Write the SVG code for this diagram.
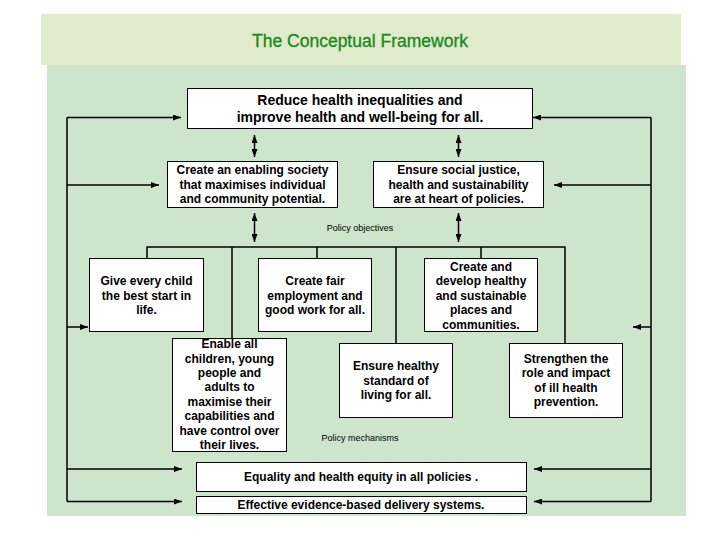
<svg xmlns="http://www.w3.org/2000/svg" width="720" height="540" viewBox="0 0 720 540">
<defs>
<marker id="ah" viewBox="0 0 8 6" refX="8" refY="3" markerWidth="8" markerHeight="6" markerUnits="userSpaceOnUse" orient="auto-start-reverse">
<path d="M0,0 L8,3 L0,6 z" fill="#000"/>
</marker>
<style>
.box{fill:#fff;stroke:#000;stroke-width:1}
.t{font-family:"Liberation Sans",Arial,sans-serif;font-weight:bold;font-size:12px;fill:#000;text-anchor:middle;dominant-baseline:central}
.big{font-size:14px}
.sm{font-family:"Liberation Sans",Arial,sans-serif;font-size:9px;fill:#000;text-anchor:middle;dominant-baseline:central}
.c{fill:none;stroke:#000;stroke-width:1.5}
.a{fill:none;stroke:#000;stroke-width:1.5;marker-end:url(#ah)}
.d{fill:none;stroke:#000;stroke-width:1.5;marker-end:url(#ah);marker-start:url(#ah)}
</style>
</defs>
<rect x="0" y="0" width="720" height="540" fill="#fff"/>
<rect x="41" y="14" width="640" height="51" fill="#e0ebcc"/>
<rect x="47" y="65" width="639" height="451" fill="#cce5cb"/>
<text x="360" y="41" font-family="'Liberation Sans',Arial,sans-serif" font-size="17.5" fill="#188818" stroke="#188818" stroke-width="0.3" text-anchor="middle" dominant-baseline="central">The Conceptual Framework</text>

<g id="connectors">
<path class="c" d="M67,117.5 V501.5 M651,117.5 V501.5"/>
<path class="a" d="M67,117.5 H181"/>
<path class="a" d="M67,185 H159"/>
<path class="a" d="M67,327 H88"/>
<path class="a" d="M67,469 H182"/>
<path class="a" d="M67,501.5 H182"/>
<path class="a" d="M651,117.5 H533"/>
<path class="a" d="M651,185 H554"/>
<path class="a" d="M651,327 H633"/>
<path class="a" d="M651,469 H534"/>
<path class="a" d="M651,501.5 H534"/>
<path class="d" d="M254.5,135 V157"/>
<path class="d" d="M254.5,213 V242"/>
<path class="d" d="M458.5,135 V157"/>
<path class="d" d="M458.5,213 V242"/>
<path class="c" d="M147,258 V247 H565 V343 M232,247 V338 M317,247 V258 M396,247 V343 M481,247 V258"/>
</g>

<g id="goal">
<rect class="box" x="187.5" y="88.5" width="345" height="40"/>
<text class="t big" x="360" y="100">Reduce health inequalities and</text>
<text class="t big" x="360" y="117">improve health and well-being for all.</text>
</g>
<g id="enabling">
<rect class="box" x="167.5" y="161.5" width="170" height="46"/>
<text class="t" x="252.5" y="170">Create an enabling society</text>
<text class="t" x="252.5" y="184.5">that maximises individual</text>
<text class="t" x="252.5" y="199">and community potential.</text>
</g>
<g id="justice">
<rect class="box" x="373.5" y="161.5" width="170" height="46"/>
<text class="t" x="458.5" y="170">Ensure social justice,</text>
<text class="t" x="458.5" y="184.5">health and sustainability</text>
<text class="t" x="458.5" y="199">are at heart of policies.</text>
</g>
<g id="objectives-label">
<text class="sm" x="360" y="228">Policy objectives</text>
</g>
<g id="child">
<rect class="box" x="89.5" y="258.5" width="114" height="73"/>
<text class="t" x="146.5" y="281">Give every child</text>
<text class="t" x="146.5" y="295.5">the best start in</text>
<text class="t" x="146.5" y="310">life.</text>
</g>
<g id="employment">
<rect class="box" x="258.5" y="258.5" width="113" height="73"/>
<text class="t" x="315" y="281">Create fair</text>
<text class="t" x="315" y="295.5">employment and</text>
<text class="t" x="315" y="310">good work for all.</text>
</g>
<g id="places">
<rect class="box" x="424.5" y="258.5" width="113" height="73"/>
<text class="t" x="481" y="266.5">Create and</text>
<text class="t" x="481" y="281">develop healthy</text>
<text class="t" x="481" y="295.5">and sustainable</text>
<text class="t" x="481" y="310">places and</text>
<text class="t" x="481" y="324.5">communities.</text>
</g>
<g id="enable">
<rect class="box" x="172.5" y="338.5" width="114" height="113"/>
<text class="t" x="229.5" y="344">Enable all</text>
<text class="t" x="229.5" y="358.5">children, young</text>
<text class="t" x="229.5" y="373">people and</text>
<text class="t" x="229.5" y="387">adults to</text>
<text class="t" x="229.5" y="401.5">maximise their</text>
<text class="t" x="229.5" y="416">capabilities and</text>
<text class="t" x="229.5" y="430.5">have control over</text>
<text class="t" x="229.5" y="445">their lives.</text>
</g>
<g id="living">
<rect class="box" x="339.5" y="343.5" width="113" height="74"/>
<text class="t" x="396" y="366">Ensure healthy</text>
<text class="t" x="396" y="380.5">standard of</text>
<text class="t" x="396" y="395">living for all.</text>
</g>
<g id="prevention">
<rect class="box" x="509.5" y="343.5" width="113" height="74"/>
<text class="t" x="566" y="358.5">Strengthen the</text>
<text class="t" x="566" y="373">role and impact</text>
<text class="t" x="566" y="387.5">of ill health</text>
<text class="t" x="566" y="402">prevention.</text>
</g>
<g id="mechanisms-label">
<text class="sm" x="360" y="438">Policy mechanisms</text>
</g>
<g id="equality">
<rect class="box" x="196.5" y="462.5" width="330" height="29"/>
<text class="t" x="361" y="477">Equality and health equity in all policies .</text>
</g>
<g id="delivery">
<rect class="box" x="196.5" y="496.5" width="330" height="17"/>
<text class="t" x="361" y="505">Effective evidence-based delivery systems.</text>
</g>
</svg>
